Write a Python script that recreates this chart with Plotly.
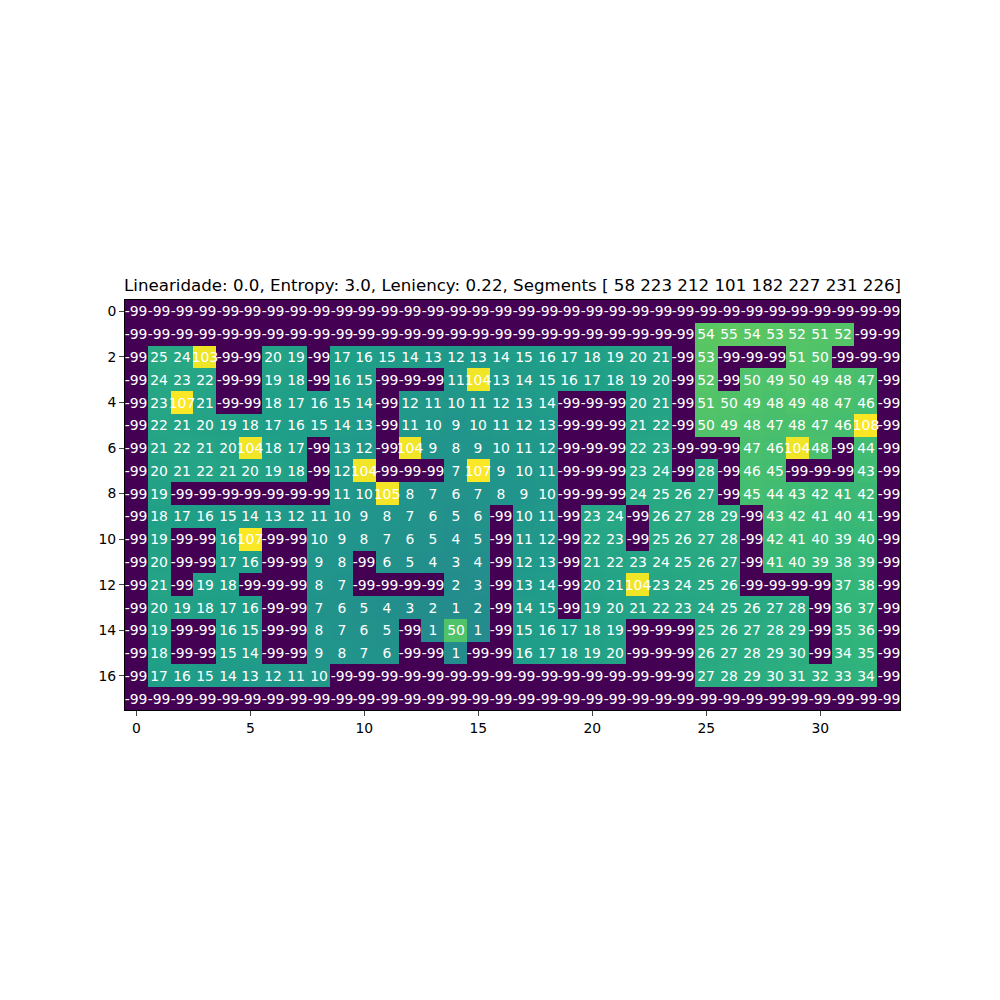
import plotly.graph_objects as go

N = -99
row00 = [N]*34
row01 = [N]*25 + [54, 55, 54, 53, 52, 51, 52, N, N]
row02 = [N, 25, 24, 103, N, N, 20, 19, N, 17, 16, 15, 14, 13, 12, 13, 14, 15, 16, 17, 18, 19, 20, 21, N, 53, N, N, N, 51, 50, N, N, N]
row03 = [N, 24, 23, 22, N, N, 19, 18, N, 16, 15, N, N, N, 11, 104, 13, 14, 15, 16, 17, 18, 19, 20, N, 52, N, 50, 49, 50, 49, 48, 47, N]
row04 = [N, 23, 107, 21, N, N, 18, 17, 16, 15, 14, N, 12, 11, 10, 11, 12, 13, 14, N, N, N, 20, 21, N, 51, 50, 49, 48, 49, 48, 47, 46, N]
row05 = [N, 22, 21, 20, 19, 18, 17, 16, 15, 14, 13, N, 11, 10, 9, 10, 11, 12, 13, N, N, N, 21, 22, N, 50, 49, 48, 47, 48, 47, 46, 108, N]
row06 = [N, 21, 22, 21, 20, 104, 18, 17, N, 13, 12, N, 104, 9, 8, 9, 10, 11, 12, N, N, N, 22, 23, N, N, N, 47, 46, 104, 48, N, 44, N]
row07 = [N, 20, 21, 22, 21, 20, 19, 18, N, 12, 104, N, N, N, 7, 107, 9, 10, 11, N, N, N, 23, 24, N, 28, N, 46, 45, N, N, N, 43, N]
row08 = [N, 19, N, N, N, N, N, N, N, 11, 10, 105, 8, 7, 6, 7, 8, 9, 10, N, N, N, 24, 25, 26, 27, N, 45, 44, 43, 42, 41, 42, N]
row09 = [N, 18, 17, 16, 15, 14, 13, 12, 11, 10, 9, 8, 7, 6, 5, 6, N, 10, 11, N, 23, 24, N, 26, 27, 28, 29, N, 43, 42, 41, 40, 41, N]
row10 = [N, 19, N, N, 16, 107, N, N, 10, 9, 8, 7, 6, 5, 4, 5, N, 11, 12, N, 22, 23, N, 25, 26, 27, 28, N, 42, 41, 40, 39, 40, N]
row11 = [N, 20, N, N, 17, 16, N, N, 9, 8, N, 6, 5, 4, 3, 4, N, 12, 13, N, 21, 22, 23, 24, 25, 26, 27, N, 41, 40, 39, 38, 39, N]
row12 = [N, 21, N, 19, 18, N, N, N, 8, 7, N, N, N, N, 2, 3, N, 13, 14, N, 20, 21, 104, 23, 24, 25, 26, N, N, N, N, 37, 38, N]
row13 = [N, 20, 19, 18, 17, 16, N, N, 7, 6, 5, 4, 3, 2, 1, 2, N, 14, 15, N, 19, 20, 21, 22, 23, 24, 25, 26, 27, 28, N, 36, 37, N]
row14 = [N, 19, N, N, 16, 15, N, N, 8, 7, 6, 5, N, 1, 50, 1, N, 15, 16, 17, 18, 19, N, N, N, 25, 26, 27, 28, 29, N, 35, 36, N]
row15 = [N, 18, N, N, 15, 14, N, N, 9, 8, 7, 6, N, N, 1, N, N, 16, 17, 18, 19, 20, N, N, N, 26, 27, 28, 29, 30, N, 34, 35, N]
row16 = [N, 17, 16, 15, 14, 13, 12, 11, 10] + [N]*16 + [27, 28, 29, 30, 31, 32, 33, 34, N]
row17 = [N]*34

z = [row00, row01, row02, row03, row04, row05, row06, row07, row08,
     row09, row10, row11, row12, row13, row14, row15, row16, row17]
labels = [[str(v) for v in row] for row in z]

title_text = "Linearidade: 0.0, Entropy: 3.0, Leniency: 0.22, Segments [ 58 223 212 101 182 227 231 226]"
x_ticks = [0, 5, 10, 15, 20, 25, 30]
y_ticks = [0, 2, 4, 6, 8, 10, 12, 14, 16]

fig = go.Figure(go.Heatmap(
    z=z,
    text=labels,
    colorscale="Viridis",
    zmin=-99, zmax=108,
    showscale=False,
    texttemplate="%{text}",
    textfont=dict(color="white", size=13.9, family="DejaVu Sans"),
    hoverinfo="skip",
))

fig.update_layout(
    width=1000, height=1000,
    margin=dict(l=117, r=108, t=292, b=298),
    paper_bgcolor="white", plot_bgcolor="white",
    font=dict(family="DejaVu Sans", size=13.9, color="black"),
    annotations=[dict(
        text=title_text, x=0.5, y=1, xref="paper", yref="paper",
        xanchor="center", yanchor="bottom", yshift=3, showarrow=False,
        font=dict(size=16.67, family="DejaVu Sans", color="black"),
    )],
)
fig.update_xaxes(range=[-0.5, 33.5], tickvals=x_ticks, ticks="outside", ticklen=5,
                 showline=True, linecolor="black", mirror=True, showgrid=False, zeroline=False)
fig.update_yaxes(range=[17.5, -0.5], tickvals=y_ticks, ticks="outside", ticklen=5,
                 showline=True, linecolor="black", mirror=True, showgrid=False, zeroline=False)

fig.write_html("out.html")
